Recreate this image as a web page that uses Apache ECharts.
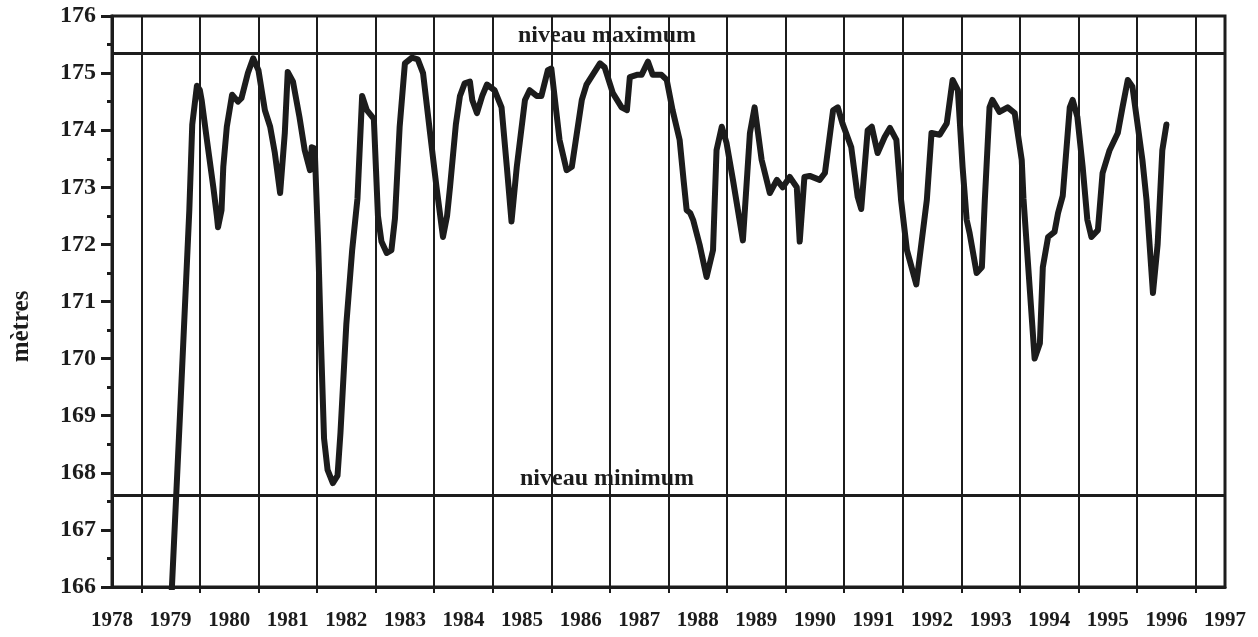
<!DOCTYPE html>
<html><head><meta charset="utf-8">
<script src="https://cdn.jsdelivr.net/npm/echarts@6/dist/echarts.min.js"></script>
<style>html,body{margin:0;padding:0;background:#fff}#c{width:1258px;height:637px}</style>
</head><body><div id="c"></div>
<script>
// decimal years of each reading
const years = [
1979.00,1979.16,1979.32,1979.37,1979.45,1979.50,1979.53,1979.62,1979.73,1979.79,1979.81,1979.87,1979.90,1979.96,
1980.05,1980.15,1980.21,1980.32,1980.41,1980.50,1980.61,1980.70,1980.78,1980.87,1980.95,
1981.00,1981.09,1981.20,1981.29,1981.38,1981.41,1981.46,1981.52,1981.57,1981.62,1981.68,1981.77,1981.85,1981.90,
1982.00,1982.10,1982.19,1982.27,1982.35,1982.47,1982.54,1982.60,1982.69,1982.77,1982.83,1982.91,
1983.00,1983.12,1983.22,1983.31,1983.43,1983.54,1983.65,1983.72,1983.77,1983.87,1983.94,
1984.02,1984.11,1984.15,1984.23,1984.32,1984.40,1984.53,1984.65,1984.74,1984.82,1984.91,
1985.05,1985.13,1985.25,1985.33,1985.44,1985.50,1985.64,1985.76,1985.85,
1986.02,1986.10,1986.33,1986.41,1986.55,1986.70,1986.79,1986.84,1986.96,
1987.04,1987.15,1987.23,1987.38,1987.47,1987.57,1987.69,1987.76,1987.81,1987.87,1987.92,
1988.03,1988.15,1988.26,1988.32,1988.41,1988.49,1988.60,1988.77,1988.89,1988.97,
1989.09,1989.23,1989.35,1989.45,1989.57,1989.69,1989.74,1989.82,1989.91,
1990.08,1990.17,1990.31,1990.39,1990.47,1990.62,1990.73,1990.79,1990.90,1990.97,
1991.07,1991.19,1991.28,1991.39,1991.47,1991.57,1991.73,1991.91,1991.99,
1992.13,1992.25,1992.35,1992.44,1992.52,1992.59,1992.64,1992.76,1992.85,1992.90,1992.98,
1993.03,1993.15,1993.29,1993.41,1993.53,1993.56,1993.75,1993.84,1993.89,1993.98,
1994.09,1994.15,1994.23,1994.35,1994.40,1994.48,1994.57,1994.65,1994.72,1994.83,1994.91,
1995.03,1995.17,1995.25,1995.34,1995.42,1995.59,1995.66,1995.77,1995.85,1995.93,
1996.00
];
// lake level, metres
const levels = [
165.5,169.0,172.6,174.1,174.78,174.7,174.53,173.83,173.0,172.5,172.3,172.6,173.36,174.06,
174.62,174.5,174.56,175.0,175.26,175.05,174.35,174.06,173.6,172.9,173.95,
175.02,174.85,174.23,173.65,173.3,173.7,173.68,172.0,170.2,168.6,168.05,167.82,167.95,168.7,
170.6,171.9,172.8,174.6,174.35,174.2,172.5,172.05,171.85,171.9,172.45,174.05,
175.17,175.27,175.24,175.0,173.95,173.0,172.13,172.5,173.0,174.1,174.6,
174.82,174.85,174.53,174.3,174.6,174.8,174.7,174.4,173.36,172.4,173.36,
174.53,174.7,174.6,174.6,175.05,175.08,173.83,173.3,173.36,
174.53,174.8,175.17,175.1,174.65,174.4,174.35,174.93,174.97,
174.97,175.2,174.97,174.97,174.88,174.35,173.83,173.1,172.6,172.55,172.43,
172.0,171.43,171.9,173.65,174.06,173.78,173.13,172.07,173.95,174.4,
173.48,172.9,173.13,173.0,173.18,173.0,172.05,173.18,173.2,
173.13,173.25,174.35,174.4,174.12,173.7,172.83,172.62,174.0,174.06,
173.6,173.88,174.04,173.83,172.78,171.9,171.3,172.78,173.95,
173.92,174.12,174.88,174.7,173.36,172.43,172.2,171.5,171.6,172.78,174.4,
174.53,174.32,174.4,174.3,173.48,172.8,170.0,170.27,171.6,172.13,
172.22,172.55,172.85,174.4,174.53,174.23,173.36,172.43,172.13,172.25,173.25,
173.65,173.95,174.4,174.88,174.76,173.48,172.78,171.15,172.0,173.65,
174.1
];
const tickYears = [1978,1979,1980,1981,1982,1983,1984,1985,1986,1987,1988,1989,1990,1991,1992,1993,1994,1995,1996,1997];
const yTicks = [166,167,168,169,170,171,172,173,174,175,176];
const levelMax = 175.35;
const levelMin = 167.6;
const labelMax = 'niveau maximum';
const labelMin = 'niveau minimum';
const yName = 'mètres';

const gridYears = tickYears.slice(0, -1).map(y => y + 0.5);
const font = "'Liberation Serif','Times New Roman',serif";
const ink = '#1c1c1c';
const labelYear = 1986.45;

const chart = echarts.init(document.getElementById('c'), null, {renderer: 'canvas'});
chart.setOption({
  animation: false,
  backgroundColor: '#fff',
  grid: {left: 112, right: 33, top: 16, bottom: 50, show: true, borderColor: ink, borderWidth: 3, backgroundColor: 'transparent'},
  xAxis: {
    type: 'value', min: tickYears[0], max: tickYears[tickYears.length - 1], interval: 1,
    axisLine: {lineStyle: {color: ink, width: 3}},
    axisTick: {show: true, customValues: gridYears, length: 6, lineStyle: {color: ink, width: 2}},
    axisLabel: {color: ink, fontFamily: font, fontWeight: 'bold', fontSize: 21, margin: 23, formatter: v => String(v)},
    splitLine: {show: false}
  },
  yAxis: {
    type: 'value', min: yTicks[0], max: yTicks[yTicks.length - 1], interval: 1,
    name: yName, nameLocation: 'middle', nameRotate: 90, nameGap: 78,
    nameTextStyle: {color: ink, fontFamily: font, fontWeight: 'bold', fontSize: 25, padding: [0, 50, 0, 0]},
    axisLine: {lineStyle: {color: ink, width: 3}},
    axisTick: {show: true, length: 11, lineStyle: {color: ink, width: 3}},
    minorTick: {show: true, splitNumber: 2, length: 5, lineStyle: {color: ink, width: 3}},
    axisLabel: {color: ink, fontFamily: font, fontWeight: 'bold', fontSize: 24, margin: 16},
    splitLine: {show: false}
  },
  series: [
    {
      type: 'line', data: [], z: 1, silent: true,
      markLine: {
        silent: true, symbol: 'none', animation: false,
        label: {show: false},
        data: gridYears.map(x => ({xAxis: x, lineStyle: {color: ink, width: 2, type: 'solid'}}))
          .concat([
            {yAxis: levelMax, lineStyle: {color: ink, width: 3, type: 'solid'}},
            {yAxis: levelMin, lineStyle: {color: ink, width: 3, type: 'solid'}}
          ])
      },
      markPoint: {
        silent: true, symbol: 'circle', symbolSize: 0,
        label: {show: true, position: 'top', distance: 5, color: ink, fontFamily: font, fontWeight: 'bold', fontSize: 24, formatter: p => p.name},
        data: [
          {name: labelMax, coord: [labelYear, levelMax]},
          {name: labelMin, coord: [labelYear, levelMin]}
        ]
      }
    },
    {
      type: 'line', z: 3, clip: true, showSymbol: false, symbol: 'none', smooth: false,
      data: years.map((y, i) => [y, levels[i]]),
      lineStyle: {color: ink, width: 6, cap: 'round', join: 'round'}
    }
  ]
});
</script></body></html>
